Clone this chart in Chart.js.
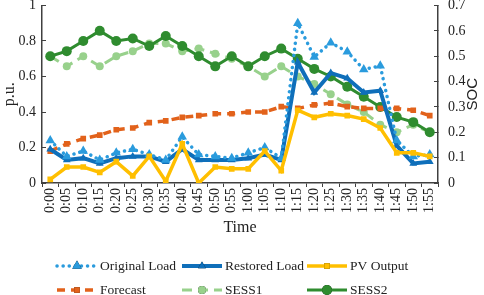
<!DOCTYPE html>
<html>
<head>
<meta charset="utf-8">
<script src="https://cdn.jsdelivr.net/npm/chart.js@4"></script>
<style>
  html, body { margin: 0; padding: 0; background: #fff; }
  #wrap { width: 484px; height: 295px; }
</style>
</head>
<body>
<div id="wrap"><canvas id="chart" width="484" height="295"></canvas></div>
<script>
const labels = ['0:00','0:05','0:10','0:15','0:20','0:25','0:30','0:35','0:40','0:45','0:50','0:55',
  '1:00','1:05','1:10','1:15','1:20','1:25','1:30','1:35','1:40','1:45','1:50','1:55'];

// p.u. (left axis)
const originalLoad = [0.24, 0.15, 0.18, 0.13, 0.17, 0.19, 0.16, 0.13, 0.26, 0.16, 0.15, 0.14,
  0.17, 0.20, 0.14, 0.90, 0.71, 0.79, 0.74, 0.64, 0.66, 0.24, 0.15, 0.16];
const restoredLoad = [0.19, 0.13, 0.14, 0.11, 0.14, 0.15, 0.15, 0.12, 0.19, 0.13, 0.13, 0.13,
  0.14, 0.16, 0.13, 0.68, 0.51, 0.62, 0.59, 0.51, 0.52, 0.21, 0.11, 0.12];
const pvOutput = [0.02, 0.09, 0.09, 0.06, 0.12, 0.04, 0.15, 0.01, 0.22, 0.00, 0.09, 0.08,
  0.08, 0.18, 0.07, 0.41, 0.37, 0.39, 0.38, 0.36, 0.31, 0.17, 0.17, 0.15];
const forecast = [0.18, 0.22, 0.25, 0.27, 0.30, 0.31, 0.34, 0.35, 0.37, 0.38, 0.39, 0.39,
  0.40, 0.40, 0.43, 0.42, 0.44, 0.45, 0.43, 0.42, 0.42, 0.42, 0.41, 0.38];
// SOC (right axis)
const sess1 = [0.50, 0.46, 0.50, 0.46, 0.50, 0.52, 0.55, 0.55, 0.52, 0.53, 0.51, 0.49,
  0.46, 0.42, 0.46, 0.42, 0.39, 0.35, 0.31, 0.28, 0.23, 0.20, 0.23, 0.20];
const sess2 = [0.50, 0.52, 0.56, 0.60, 0.56, 0.57, 0.54, 0.58, 0.54, 0.50, 0.46, 0.50,
  0.46, 0.50, 0.53, 0.49, 0.45, 0.42, 0.38, 0.34, 0.30, 0.26, 0.24, 0.20];

const serif = "'Times New Roman', 'Liberation Serif', serif";
const sans = "'Liberation Sans', Arial, sans-serif";
const axisColor = '#404040';
const textColor = '#222';

// legend drawn as a 3-column grid like the original figure, plus the SOC title
const gridLegend = {
  id: 'gridLegend',
  afterDraw(chart) {
    const ctx = chart.ctx;
    const cols = [57, 182, 307];
    const rows = [266, 290];
    chart.data.datasets.forEach((ds, i) => {
      const x = cols[i % 3];
      const y = rows[Math.floor(i / 3)];
      ctx.save();
      ctx.strokeStyle = ds.borderColor;
      ctx.lineWidth = ds.borderWidth;
      ctx.lineCap = ds.borderCapStyle || 'butt';
      ctx.setLineDash(ds.borderDash || []);
      ctx.beginPath();
      ctx.moveTo(x, y);
      ctx.lineTo(x + 40, y);
      ctx.stroke();
      ctx.setLineDash([]);
      Chart.helpers.drawPoint(ctx, {
        pointStyle: ds.pointStyle, radius: ds.pointRadius, borderWidth: 0
      }, x + 20, y);
      ctx.fillStyle = ds.pointBackgroundColor;
      ctx.fill();
      ctx.fillStyle = textColor;
      ctx.font = '13.5px ' + serif;
      ctx.textBaseline = 'middle';
      ctx.fillText(ds.label, x + 43, y);
      ctx.restore();
    });

    // right axis title, reading bottom to top
    const area = chart.chartArea;
    ctx.save();
    ctx.translate(473, (area.top + area.bottom) / 2);
    ctx.rotate(-Math.PI / 2);
    ctx.fillStyle = textColor;
    ctx.font = '15px ' + sans;
    ctx.textAlign = 'center';
    ctx.textBaseline = 'middle';
    ctx.fillText('SOC', 0, 0);
    ctx.restore();
  }
};

function ds(label, data, color, opts) {
  return Object.assign({
    label, data,
    borderColor: color,
    backgroundColor: color,
    pointBackgroundColor: color,
    pointBorderColor: color,
    pointBorderWidth: 0,
    borderWidth: 3,
    tension: 0,
    yAxisID: 'y'
  }, opts);
}

const fmt = v => String(Math.round(v * 10) / 10);

// pin the axis boxes so the plot area sits where the original one does
function pin(size) {
  return scale => {
    if (scale.isHorizontal()) scale.height = size;
    else scale.width = size;
    scale.paddingTop = 0;
    scale.paddingBottom = 0;
  };
}

new Chart(document.getElementById('chart'), {
  type: 'line',
  data: {
    labels,
    datasets: [
      ds('Original Load', originalLoad, '#2A9BDD', { borderDash: [0.1, 6], borderCapStyle: 'round', borderWidth: 3.5, pointStyle: 'triangle', pointRadius: 5.5, order: 1 }),
      ds('Restored Load', restoredLoad, '#0F6FBA', { borderWidth: 4, pointStyle: 'triangle', pointRadius: 4.5, order: 2 }),
      ds('PV Output', pvOutput, '#FFBF00', { borderWidth: 3.5, pointStyle: 'rect', pointRadius: 4, order: 0 }),
      ds('Forecast', forecast, '#E2621B', { borderDash: [8, 6], borderWidth: 3.5, pointStyle: 'rect', pointRadius: 4, order: 3 }),
      ds('SESS1', sess1, '#98D18C', { borderDash: [10, 6], borderWidth: 3, pointStyle: 'circle', pointRadius: 4, yAxisID: 'y1', order: 5 }),
      ds('SESS2', sess2, '#2F8C2F', { borderWidth: 3, pointStyle: 'circle', pointRadius: 5, yAxisID: 'y1', order: 4 })
    ]
  },
  options: {
    responsive: false,
    animation: false,
    devicePixelRatio: 1,
    layout: { padding: { top: 5, bottom: 58, left: 0, right: 0 } },
    plugins: { legend: { display: false }, tooltip: { enabled: false } },
    scales: {
      x: {
        offset: true,
        afterFit: pin(54),
        grid: { display: true, drawOnChartArea: false, offset: true, tickLength: 4, color: axisColor, lineWidth: 1 },
        border: { color: axisColor, width: 1.5 },
        ticks: { minRotation: 90, maxRotation: 90, autoSkip: false, padding: 1, color: textColor, font: { family: serif, size: 14 } },
        title: { display: true, text: 'Time', color: textColor, font: { family: serif, size: 16 }, padding: { top: 2, bottom: 0 } }
      },
      y: {
        position: 'left',
        min: 0, max: 1,
        afterFit: pin(42),
        grid: { drawOnChartArea: false, tickLength: -4, color: axisColor },
        border: { color: axisColor, width: 1.5 },
        ticks: { stepSize: 0.1, padding: 10, color: textColor, font: { family: serif, size: 14 }, callback: fmt },
        title: { display: true, text: 'p.u.', color: textColor, font: { family: serif, size: 16 }, padding: 0 }
      },
      y1: {
        position: 'right',
        min: 0, max: 0.7,
        afterFit: pin(46),
        grid: { drawOnChartArea: false, tickLength: -4, color: axisColor },
        border: { color: axisColor, width: 1.5 },
        ticks: { stepSize: 0.1, padding: 14, color: textColor, font: { family: serif, size: 14 }, callback: fmt },
        title: { display: false }
      }
    }
  },
  plugins: [gridLegend]
});
</script>
</body>
</html>
